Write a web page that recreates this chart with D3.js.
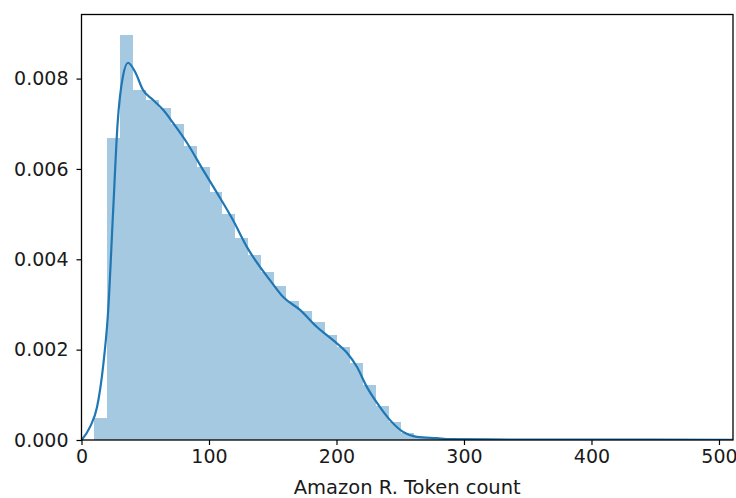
<!DOCTYPE html>
<html>
<head>
<meta charset="utf-8">
<script src="https://cdn.jsdelivr.net/npm/d3@7"></script>
<style>
  body { margin: 0; background: #fff; }
  svg text { font-family: "DejaVu Sans", sans-serif; }
</style>
</head>
<body>
<svg id="chart" width="736" height="498"></svg>
<script>
// Histograma: 50 classes entre o mínimo e o máximo da contagem
const binMin = 10;
const binMax = 511;
const densidades = [
  0.00049, 0.00669, 0.00897, 0.00775, 0.00753, 0.00735, 0.00700, 0.00650, 0.00605, 0.00550,
  0.00500, 0.00447, 0.00410, 0.00372, 0.00340, 0.00308, 0.00285, 0.00262, 0.00233, 0.00205,
  0.00170, 0.00122, 0.00075, 0.00040, 0.00015, 0.00006, 0.00003, 0.00002, 0.00001, 0.00001,
  0.00001, 0.00001, 0.00001, 0.00001, 0.00001, 0.00001, 0.00001, 0.00001, 0.00001, 0.00001,
  0.00001, 0.00001, 0.00001, 0.00001, 0.00001, 0.00001, 0.00001, 0.00001, 0.00001, 0.00001
];

// Curva KDE
const kdeX = [0, 6.7, 12.2, 16.9, 20.8, 24.7, 28.3, 32.5, 36.5, 42, 48.2, 56, 64, 71.8, 82.7,
  95.3, 106.3, 118.8, 129.8, 140, 147.8, 158, 171.4, 184.7, 197.3, 208.2, 216, 223.9, 231.8,
  242, 252.2, 263.1, 278.8, 289, 320, 380, 450, 511];
const kdeY = [0, 0.00029, 0.00073, 0.00162, 0.00281, 0.00500, 0.00700, 0.00805, 0.00835, 0.00815,
  0.00775, 0.00753, 0.00731, 0.00702, 0.00658, 0.00598, 0.00547, 0.00487, 0.00427, 0.00383,
  0.00354, 0.00317, 0.00288, 0.00250, 0.00221, 0.00193, 0.00162, 0.00117, 0.00082, 0.00044,
  0.00018, 0.00007, 0.00004, 0.00002, 0.000012, 0.00001, 0.000008, 0.000006];

const xTicks = [0, 100, 200, 300, 400, 500];
const yTicks = [0, 0.002, 0.004, 0.006, 0.008];

const cor = "#1f77b4";
const corBarra = "#a5c9e1"; // azul com alfa 0.4 sobre branco
const margin = { top: 14.5, right: 3, bottom: 58, left: 81.5 };
const W = 736 - margin.left - margin.right;
const H = 498 - margin.top - margin.bottom;

const svg = d3.select("#chart");
const g = svg.append("g").attr("transform", `translate(${margin.left},${margin.top})`);

const x = d3.scaleLinear().domain([0, 511]).range([0, W]);
const y = d3.scaleLinear().domain([0, d3.max(densidades) * 1.05]).range([H, 0]);

svg.append("defs").append("clipPath").attr("id", "area")
  .append("rect").attr("width", W).attr("height", H);

const largura = (binMax - binMin) / densidades.length;
const barras = densidades.map((d, i) => ({ x0: binMin + i * largura, x1: binMin + (i + 1) * largura, d }));

const plot = g.append("g").attr("clip-path", "url(#area)");

plot.selectAll("rect.bar")
  .data(barras)
  .enter()
  .append("rect")
  .attr("class", "bar")
  .attr("x", b => x(b.x0))
  .attr("width", b => x(b.x1) - x(b.x0) + 0.5)
  .attr("y", b => y(b.d))
  .attr("height", b => H - y(b.d))
  .attr("fill", corBarra)
  .attr("shape-rendering", "crispEdges");

const linha = d3.line()
  .x(v => x(v))
  .y((v, i) => y(kdeY[i]))
  .curve(d3.curveMonotoneX);

plot.append("path")
  .attr("d", linha(kdeX))
  .attr("fill", "none")
  .attr("stroke", cor)
  .attr("stroke-width", 2.2);

// Eixos
const eixoX = g.append("g")
  .attr("transform", `translate(0,${H})`)
  .call(d3.axisBottom(x).tickValues(xTicks).tickSize(5).tickPadding(5).tickFormat(d3.format("d")));
const eixoY = g.append("g")
  .call(d3.axisLeft(y).tickValues(yTicks).tickSize(5).tickPadding(8).tickFormat(d3.format(".3f")));

[eixoX, eixoY].forEach(ax => {
  ax.select(".domain").remove();
  ax.selectAll("line").attr("stroke", "#000").attr("stroke-width", 1.2);
  ax.selectAll("text").attr("fill", "#1a1a1a").style("font-size", "19px");
});

// Moldura
g.append("rect")
  .attr("width", W)
  .attr("height", H)
  .attr("fill", "none")
  .attr("stroke", "#000")
  .attr("stroke-width", 1.3);

g.append("text")
  .attr("x", W / 2)
  .attr("y", H + 54)
  .attr("text-anchor", "middle")
  .attr("fill", "#1a1a1a")
  .style("font-size", "19.5px")
  .text("Amazon R. Token count");
</script>
</body>
</html>
